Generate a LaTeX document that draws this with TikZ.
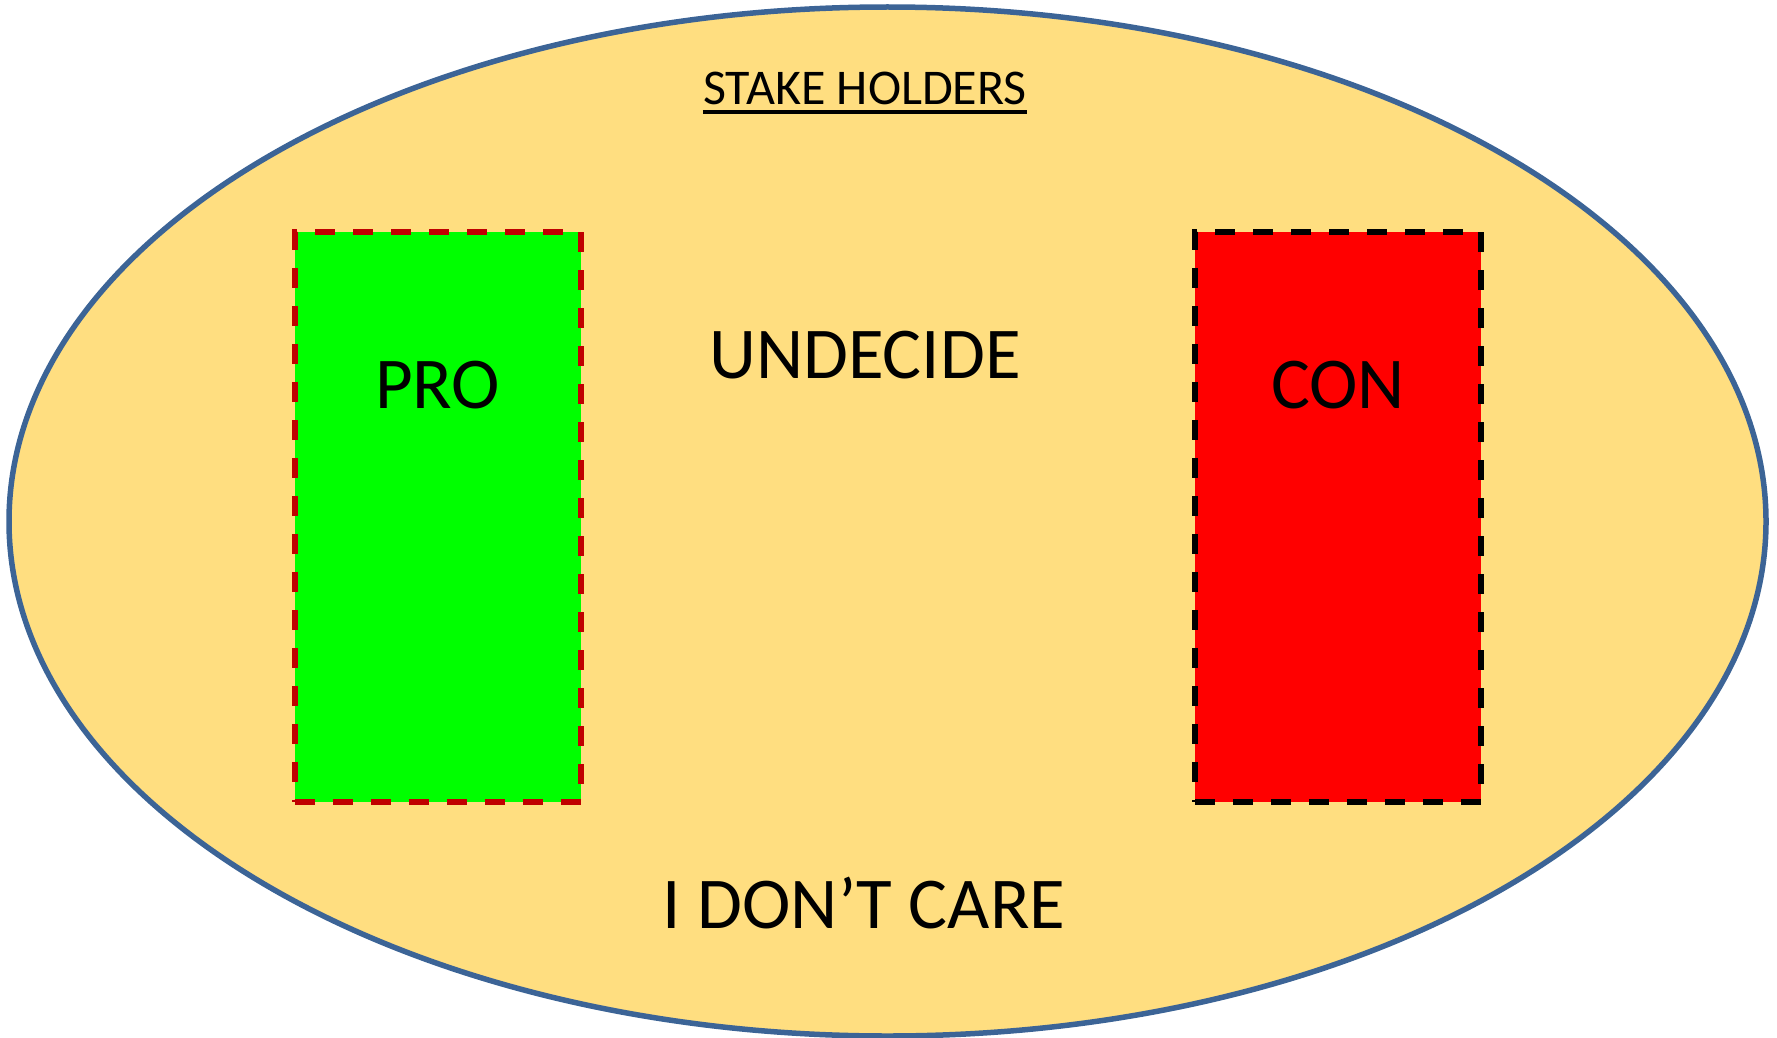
\documentclass[tikz,border=0pt]{standalone}
\usepackage{fontspec}
\setmainfont{Carlito}
\usepackage{xcolor}
\definecolor{sand}{HTML}{FFDE80}
\definecolor{rimblue}{HTML}{3C6496}
\definecolor{darkred}{HTML}{C00000}
\tikzset{
  side/.style={minimum width=286pt, minimum height=570pt, line width=6pt,
    dash pattern=on 20pt off 18pt, inner sep=0pt},
  bigtext/.style={font=\fontsize{73}{80}\selectfont, anchor=base, inner sep=0pt}
}

\begin{document}
\begin{tikzpicture}[x=1pt,y=-1pt]
\useasboundingbox (0,0) rectangle (1777,1038);

% the stake holders
\draw [fill=sand, draw=rimblue, line width=5.5pt] (887.5,521.5) ellipse [x radius=878.5, y radius=514.5];
\node[font=\fontsize{50}{56}\selectfont, anchor=base, inner sep=0pt] (stake) at (865,105) {STAKE HOLDERS};
\draw [line width=3.5pt] ([yshift=-7pt]stake.base west)--([yshift=-7pt]stake.base east);

% pro and con
\node[side, fill=green, draw=darkred] (pro) at (437.5,517) {};
\node[side, fill=red, draw=black] (con) at (1338,517) {};
\node[bigtext] (protext) at (437.5,408) {PRO};
\node[bigtext] (context) at (1338,408) {CON};

% the rest
\node[bigtext] (undecide) at (865,378) {UNDECIDE};
\node[bigtext] (nocare) at (864,928) {I DON’T CARE};
\end{tikzpicture}
\end{document}
